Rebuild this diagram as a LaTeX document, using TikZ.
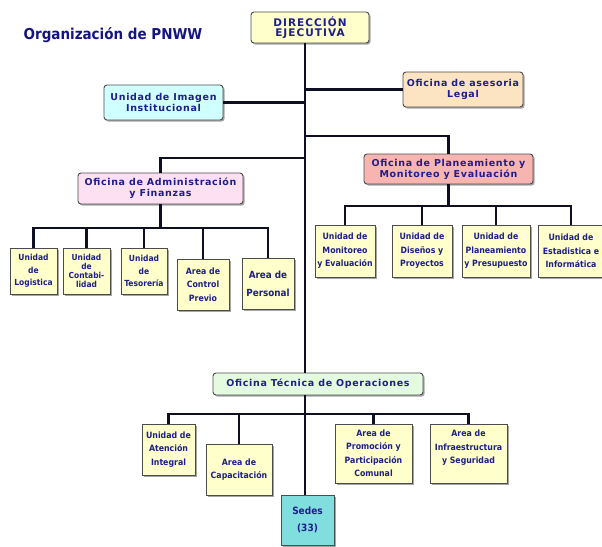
\documentclass[tikz,border=0pt]{standalone}
\usepackage{fontspec}
\setmainfont{DejaVu Sans}
\newfontfamily\condfont{DejaVu Sans Condensed}
\newfontfamily\headfont[LetterSpace=7]{DejaVu Sans}
\newfontfamily\dirfont[LetterSpace=10]{DejaVu Sans}
\usetikzlibrary{shadows}

\definecolor{txtblue}{RGB}{30,30,140}
\definecolor{titleblue}{RGB}{20,20,130}
\definecolor{linecol}{RGB}{15,15,35}
\definecolor{dirfill}{RGB}{255,255,204}
\definecolor{imgfill}{RGB}{208,255,255}
\definecolor{legalfill}{RGB}{252,227,194}
\definecolor{planfill}{RGB}{248,180,176}
\definecolor{admfill}{RGB}{253,224,242}
\definecolor{tecfill}{RGB}{228,251,224}
\definecolor{unitfill}{RGB}{255,255,204}
\definecolor{sedefill}{RGB}{128,222,222}

\begin{document}
\begin{tikzpicture}[x=1pt, y=-1pt,
  headbox/.style={rectangle, draw=black!70, line width=0.9pt, rounded corners=3pt,
    align=center, inner sep=1pt, text=txtblue,
    font=\headfont\bfseries\fontsize{9.5}{11}\selectfont,
    drop shadow={shadow xshift=1.6pt, shadow yshift=-1.6pt, fill=black, opacity=0.35}},
  unitbox/.style={rectangle, draw=black!70, line width=0.9pt, fill=unitfill,
    align=center, inner sep=1pt, text=txtblue,
    font=\condfont\bfseries\fontsize{8.7}{13.5}\selectfont,
    drop shadow={shadow xshift=1.6pt, shadow yshift=-1.6pt, fill=black, opacity=0.35}},
  titletext/.style={text=titleblue, font=\condfont\bfseries\fontsize{15}{17}\selectfont},
  conn/.style={draw=linecol, line width=2.2pt},
]
\path[use as bounding box, clip] (0,0) rectangle (602,546);

% ============================================================
% Top level
% ============================================================
\node[titletext] (title) at (113,35) {Organización de PNWW};

\node[headbox, fill=dirfill, minimum width=118pt, minimum height=31pt,
  font=\dirfont\bfseries\fontsize{10.5}{10}\selectfont] (dir) at (310,27.5) {DIRECCIÓN\\EJECUTIVA};

\node[headbox, fill=imgfill, minimum width=119pt, minimum height=35pt] (img) at (163.5,102.5) {Unidad de Imagen\\Institucional};
\node[headbox, fill=legalfill, minimum width=120pt, minimum height=35pt] (legal) at (463,89.5) {Oficina de asesoria\\Legal};
\node[headbox, fill=planfill, minimum width=169pt, minimum height=30pt] (plan) at (448.5,169) {Oficina de Planeamiento y\\Monitoreo y Evaluación};
\node[headbox, fill=admfill, minimum width=165pt, minimum height=31pt] (admin) at (160.5,188.5) {Oficina de Administración\\y Finanzas};
\node[headbox, fill=tecfill, minimum width=210pt, minimum height=22pt] (tec) at (318,384) {Oficina Técnica de Operaciones};

% ============================================================
% Units under Administración
% ============================================================
\node[unitbox, minimum width=47pt, minimum height=46pt,
  font=\condfont\bfseries\fontsize{8.4}{12.5}\selectfont] (log) at (33.5,271) {Unidad\\de\\Logistica};
\node[unitbox, minimum width=47pt, minimum height=46pt,
  font=\condfont\bfseries\fontsize{8.3}{9.2}\selectfont] (cont) at (86.5,271) {Unidad\\de\\Contabi-\\lidad};
\node[unitbox, minimum width=46pt, minimum height=46pt,
  font=\condfont\bfseries\fontsize{8.4}{12.5}\selectfont] (tes) at (144,271) {Unidad\\de\\Tesorería};
\node[unitbox, minimum width=52pt, minimum height=51pt] (ctrl) at (203,284.5) {Area de\\Control\\Previo};
\node[unitbox, minimum width=52pt, minimum height=51pt,
  font=\condfont\bfseries\fontsize{9.8}{18}\selectfont] (pers) at (268,284) {Area de\\Personal};

% ============================================================
% Units under Planeamiento
% ============================================================
\node[unitbox, minimum width=60pt, minimum height=52pt] (mon) at (345,251) {Unidad de\\Monitoreo\\y Evaluación};
\node[unitbox, minimum width=60pt, minimum height=52pt] (dis) at (422,251) {Unidad de\\Diseños y\\Proyectos};
\node[unitbox, minimum width=68pt, minimum height=52pt] (pres) at (496,251) {Unidad de\\Planeamiento\\y Presupuesto};
\node[unitbox, minimum width=66pt, minimum height=52pt] (est) at (571,251) {Unidad de\\Estadistica e\\Informática};

% ============================================================
% Units under Oficina Técnica
% ============================================================
\node[unitbox, minimum width=53pt, minimum height=51pt] (aten) at (168.5,449.5) {Unidad de\\Atención\\Integral};
\node[unitbox, minimum width=66pt, minimum height=51pt] (cap) at (239,469.5) {Area de\\Capacitación};
\node[unitbox, minimum width=77pt, minimum height=59pt] (prom) at (373.5,453.5) {Area de\\Promoción y\\Participación\\Comunal};
\node[unitbox, minimum width=77pt, minimum height=59pt] (infra) at (468.5,453.5) {Area de\\Infraestructura\\y Seguridad\\\mbox{}};
\node[unitbox, fill=sedefill, minimum width=53pt, minimum height=50pt,
  font=\condfont\bfseries\fontsize{10}{17.5}\selectfont] (sedes) at (307.5,520) {Sedes\\(33)};

% ============================================================
% Connectors
% ============================================================
\coordinate (ttop) at (305,43);
\coordinate (jplan) at (305,136);
\coordinate (jadm) at (305,158);
\coordinate (badm) at (164,228);
\coordinate (bplan) at (446,206);
\coordinate (btec) at (305,414);

% trunk
\draw[conn] (ttop) -- (ttop |- tec.north);
\draw[conn] (ttop |- tec.south) -- (ttop |- sedes.north);

% staff offices and main branches
\draw[conn] (legal.west) -- (legal.west -| ttop);
\draw[conn] (img.east) -- (img.east -| ttop);
\draw[conn] (plan.north) |- (jplan);
\draw[conn] (admin.north) |- (jadm);

% bus under Administración
\draw[conn] (admin.south) -- (admin.south |- badm);
\draw[conn] (log.north) |- (badm) -| (pers.north);
\foreach \n in {cont,tes,ctrl}
  \draw[conn] (\n.north) -- (\n.north |- badm);

% bus under Planeamiento
\draw[conn] (plan.south) -- (plan.south |- bplan);
\draw[conn] (mon.north) |- (bplan) -| (est.north);
\foreach \n in {dis,pres}
  \draw[conn] (\n.north) -- (\n.north |- bplan);

% bus under Oficina Técnica
\draw[conn] (aten.north) |- (btec) -| (infra.north);
\foreach \n in {cap,prom}
  \draw[conn] (\n.north) -- (\n.north |- btec);

\end{tikzpicture}
\end{document}
